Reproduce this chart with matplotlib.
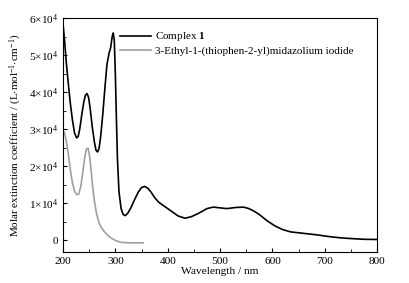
import numpy as np
import matplotlib.pyplot as plt
from matplotlib.ticker import MultipleLocator, FuncFormatter

plt.rcParams['font.family'] = ['Liberation Serif', 'DejaVu Serif']
plt.rcParams['mathtext.fontset'] = 'custom'
plt.rcParams['mathtext.rm'] = 'Liberation Serif'
plt.rcParams['mathtext.it'] = 'Liberation Serif:italic'
plt.rcParams['mathtext.bf'] = 'Liberation Serif:bold'

# Complex 1
wl_c1 = [200, 203, 206, 210, 214, 218, 222, 226, 229, 232, 236, 240, 243, 246,
         249, 252, 256, 260, 263, 266, 269, 272, 276, 280, 284, 288, 291, 294,
         296, 298, 300, 302, 304, 307, 311, 315, 319, 324, 330, 337, 344, 350,
         356, 362, 368, 375, 383, 392, 400, 410, 420, 433, 445, 460, 475, 487,
         500, 513, 530, 545, 555, 565, 575, 590, 605, 620, 635, 660, 685, 710,
         730, 750, 775, 800]
eps_c1 = [58500, 54000, 48500, 42500, 37000, 32500, 29000, 27600, 28000, 30000,
          34000, 37500, 39200, 39600, 38500, 35500, 30500, 26500, 24300, 23800,
          24800, 28000, 34000, 41000, 47500, 50500, 52000, 55000, 56000, 54000,
          45000, 33000, 22000, 13000, 8500, 6900, 6600, 7300, 8800, 11000, 13000,
          14200, 14500, 14000, 13000, 11500, 10200, 9300, 8500, 7500, 6500, 5900,
          6300, 7300, 8500, 8900, 8700, 8500, 8800, 8900, 8500, 7800, 6900, 5200,
          3800, 2800, 2200, 1800, 1400, 900, 600, 400, 200, 150]

# 3-Ethyl-1-(thiophen-2-yl)midazolium iodide
wl_lig = [200, 203, 206, 210, 214, 218, 222, 226, 230, 234, 238, 242, 245, 248,
          251, 254, 257, 260, 264, 268, 273, 280, 290, 300, 310, 325, 353]
eps_lig = [29500, 29000, 27000, 23500, 19000, 15500, 13200, 12300, 12400, 14500,
           18500, 22800, 24700, 24800, 22500, 18500, 14000, 10500, 7200, 5000,
           3400, 2100, 700, -100, -600, -750, -750]

fig = plt.figure(figsize=(4.09, 2.83), dpi=100)
ax = fig.add_axes([0.154, 0.11, 0.768, 0.826])

ax.plot(wl_c1, eps_c1, color='black', lw=1.2, label=r'Complex $\mathbf{1}$')
ax.plot(wl_lig, eps_lig, color='#a0a0a0', lw=1.2,
        label='3-Ethyl-1-(thiophen-2-yl)midazolium iodide')

ax.set_xlim(200, 800)
ax.set_ylim(-3200, 60000)
ax.xaxis.set_major_locator(MultipleLocator(100))
ax.xaxis.set_minor_locator(MultipleLocator(50))
ax.yaxis.set_major_locator(MultipleLocator(10000))
ax.yaxis.set_minor_locator(MultipleLocator(5000))


def yfmt(v, pos):
    n = int(round(v / 10000))
    if n == 0:
        return '0'
    return r'$%d{\times}10^4$' % n


ax.yaxis.set_major_formatter(FuncFormatter(yfmt))
ax.tick_params(which='both', direction='in', labelsize=8.2, top=False, right=False)
ax.tick_params(which='major', length=3)
ax.tick_params(which='minor', length=2)

ax.set_xlabel('Wavelength / nm', fontsize=8.2, labelpad=1)
ax.set_ylabel(r'Molar extinction coefficient / (L$\cdot$mol$^{-1}$$\cdot$cm$^{-1}$)',
              fontsize=8, labelpad=3)

ax.legend(loc='upper left', bbox_to_anchor=(0.15, 0.99), frameon=False,
          fontsize=8, handlelength=2.8, handletextpad=0.35, labelspacing=0.2)

fig.savefig('out.png', dpi=100)
